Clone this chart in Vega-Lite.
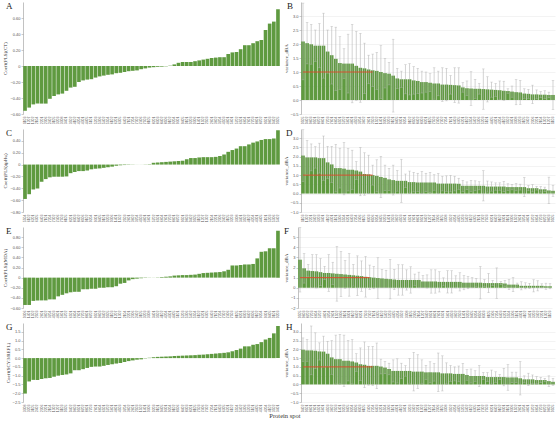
{
  "$schema": "https://vega.github.io/schema/vega-lite/v6.json",
  "padding": {"left": 2, "top": 2, "right": 2, "bottom": 0},
  "spacing": 5,
  "title": {"text": "Protein spot", "orient": "bottom", "anchor": "middle", "frame": "bounds", "fontSize": 6.5, "offset": 1, "dx": 6, "color": "#333"},
  "datasets": {
    "a": [
      {"s": "1103", "v": -0.56}, {"s": "1207", "v": -0.52}, {"s": "1302", "v": -0.48}, {"s": "2104", "v": -0.47},
      {"s": "2201", "v": -0.47}, {"s": "2306", "v": -0.47}, {"s": "2402", "v": -0.41}, {"s": "3105", "v": -0.375},
      {"s": "3203", "v": -0.355}, {"s": "3308", "v": -0.345}, {"s": "3401", "v": -0.31}, {"s": "3502", "v": -0.27},
      {"s": "4102", "v": -0.26}, {"s": "4204", "v": -0.2}, {"s": "4301", "v": -0.18}, {"s": "4405", "v": -0.17},
      {"s": "5101", "v": -0.165}, {"s": "5203", "v": -0.145}, {"s": "5306", "v": -0.13}, {"s": "5402", "v": -0.12},
      {"s": "5504", "v": -0.11}, {"s": "6102", "v": -0.105}, {"s": "6201", "v": -0.09}, {"s": "6305", "v": -0.085},
      {"s": "6403", "v": -0.075}, {"s": "7101", "v": -0.065}, {"s": "7204", "v": -0.06}, {"s": "7302", "v": -0.055},
      {"s": "7406", "v": -0.04}, {"s": "7503", "v": -0.03}, {"s": "8105", "v": -0.02}, {"s": "8201", "v": -0.015},
      {"s": "8303", "v": -0.01}, {"s": "8402", "v": -0.008}, {"s": "8506", "v": -0.004}, {"s": "9102", "v": 0.004},
      {"s": "9204", "v": 0.02}, {"s": "9301", "v": 0.04}, {"s": "9405", "v": 0.05}, {"s": "0101", "v": 0.05},
      {"s": "0203", "v": 0.05}, {"s": "0306", "v": 0.06}, {"s": "1401", "v": 0.07}, {"s": "1502", "v": 0.08},
      {"s": "2503", "v": 0.09}, {"s": "2601", "v": 0.1}, {"s": "3602", "v": 0.105}, {"s": "3704", "v": 0.11},
      {"s": "4503", "v": 0.11}, {"s": "4601", "v": 0.15}, {"s": "5601", "v": 0.17}, {"s": "5702", "v": 0.175},
      {"s": "6501", "v": 0.21}, {"s": "6604", "v": 0.26}, {"s": "7601", "v": 0.26}, {"s": "7703", "v": 0.285},
      {"s": "8601", "v": 0.31}, {"s": "8702", "v": 0.325}, {"s": "9501", "v": 0.45}, {"s": "9603", "v": 0.53},
      {"s": "0402", "v": 0.555}, {"s": "0505", "v": 0.71}
    ],
    "b": [
      {"s": "0505", "v": 2.09, "e": 1.37}, {"s": "0402", "v": 2.03, "e": 0.74}, {"s": "9603", "v": 1.99, "e": 0.71},
      {"s": "9501", "v": 1.94, "e": 0.56}, {"s": "8702", "v": 1.94, "e": 0.79}, {"s": "8601", "v": 1.94, "e": 1.16},
      {"s": "7703", "v": 1.73, "e": 0.77}, {"s": "7601", "v": 1.6, "e": 1.03}, {"s": "6604", "v": 1.47, "e": 1.13},
      {"s": "6501", "v": 1.32, "e": 0.94}, {"s": "5702", "v": 1.3, "e": 0.53}, {"s": "5601", "v": 1.3, "e": 1.05},
      {"s": "4601", "v": 1.3, "e": 1.4}, {"s": "4503", "v": 1.22, "e": 1.23}, {"s": "3704", "v": 1.15, "e": 1.23},
      {"s": "3602", "v": 1.13, "e": 0.9}, {"s": "2601", "v": 1.09, "e": 0.51}, {"s": "2503", "v": 1.06, "e": 0.58},
      {"s": "1502", "v": 1.04, "e": 0.66}, {"s": "1401", "v": 1.0, "e": 0.94}, {"s": "0306", "v": 0.96, "e": 0.53},
      {"s": "0203", "v": 0.94, "e": 0.4}, {"s": "0101", "v": 0.87, "e": 1.3}, {"s": "9405", "v": 0.77, "e": 0.36},
      {"s": "9301", "v": 0.74, "e": 0.29}, {"s": "9204", "v": 0.74, "e": 0.52}, {"s": "9102", "v": 0.74, "e": 0.56},
      {"s": "8506", "v": 0.7, "e": 0.49}, {"s": "8402", "v": 0.68, "e": 0.45}, {"s": "8303", "v": 0.64, "e": 0.39},
      {"s": "8201", "v": 0.64, "e": 0.36}, {"s": "8105", "v": 0.62, "e": 0.32}, {"s": "7503", "v": 0.59, "e": 0.56},
      {"s": "7406", "v": 0.59, "e": 0.44}, {"s": "7302", "v": 0.55, "e": 0.6}, {"s": "7204", "v": 0.55, "e": 0.58},
      {"s": "7101", "v": 0.54, "e": 0.33}, {"s": "6403", "v": 0.53, "e": 0.62}, {"s": "6305", "v": 0.52, "e": 0.63},
      {"s": "6201", "v": 0.45, "e": 0.17}, {"s": "6102", "v": 0.42, "e": 0.26}, {"s": "5504", "v": 0.41, "e": 0.6},
      {"s": "5402", "v": 0.4, "e": 0.34}, {"s": "5306", "v": 0.4, "e": 0.19}, {"s": "5203", "v": 0.39, "e": 0.72},
      {"s": "5101", "v": 0.38, "e": 0.45}, {"s": "4405", "v": 0.37, "e": 0.27}, {"s": "4301", "v": 0.36, "e": 0.23},
      {"s": "4204", "v": 0.35, "e": 0.33}, {"s": "4102", "v": 0.33, "e": 0.34}, {"s": "3502", "v": 0.32, "e": 0.08},
      {"s": "3401", "v": 0.3, "e": 0.2}, {"s": "3308", "v": 0.28, "e": 0.45}, {"s": "3203", "v": 0.27, "e": 0.43},
      {"s": "3105", "v": 0.23, "e": 0.17}, {"s": "2402", "v": 0.22, "e": 0.16}, {"s": "2306", "v": 0.2, "e": 0.33},
      {"s": "2201", "v": 0.2, "e": 0.16}, {"s": "2104", "v": 0.19, "e": 0.11}, {"s": "1302", "v": 0.19, "e": 0.14},
      {"s": "1207", "v": 0.18, "e": 0.1}, {"s": "1103", "v": 0.18, "e": 0.52}
    ],
    "c": [
      {"s": "5504", "v": -0.58}, {"s": "6102", "v": -0.5}, {"s": "6201", "v": -0.42}, {"s": "6305", "v": -0.405},
      {"s": "6403", "v": -0.29}, {"s": "7101", "v": -0.245}, {"s": "7204", "v": -0.215}, {"s": "7302", "v": -0.205},
      {"s": "7406", "v": -0.205}, {"s": "7503", "v": -0.205}, {"s": "8105", "v": -0.2}, {"s": "8201", "v": -0.145},
      {"s": "8303", "v": -0.125}, {"s": "8402", "v": -0.11}, {"s": "8506", "v": -0.11}, {"s": "9102", "v": -0.1},
      {"s": "9204", "v": -0.08}, {"s": "9301", "v": -0.07}, {"s": "9405", "v": -0.065}, {"s": "0101", "v": -0.055},
      {"s": "0203", "v": -0.045}, {"s": "0306", "v": -0.035}, {"s": "1401", "v": -0.02}, {"s": "1502", "v": -0.012},
      {"s": "2503", "v": -0.008}, {"s": "2601", "v": -0.005}, {"s": "3602", "v": -0.003}, {"s": "3704", "v": -0.001},
      {"s": "4503", "v": 0.001}, {"s": "4601", "v": 0.003}, {"s": "5601", "v": 0.006}, {"s": "5702", "v": 0.03},
      {"s": "6501", "v": 0.035}, {"s": "6604", "v": 0.04}, {"s": "7601", "v": 0.045}, {"s": "7703", "v": 0.05},
      {"s": "8601", "v": 0.055}, {"s": "8702", "v": 0.06}, {"s": "9501", "v": 0.065}, {"s": "9603", "v": 0.09},
      {"s": "0402", "v": 0.11}, {"s": "0505", "v": 0.11}, {"s": "1103", "v": 0.12}, {"s": "1207", "v": 0.125},
      {"s": "1302", "v": 0.125}, {"s": "2104", "v": 0.125}, {"s": "2201", "v": 0.13}, {"s": "2306", "v": 0.145},
      {"s": "2402", "v": 0.17}, {"s": "3105", "v": 0.215}, {"s": "3203", "v": 0.245}, {"s": "3308", "v": 0.27},
      {"s": "3401", "v": 0.31}, {"s": "3502", "v": 0.31}, {"s": "4102", "v": 0.34}, {"s": "4204", "v": 0.37},
      {"s": "4301", "v": 0.39}, {"s": "4405", "v": 0.415}, {"s": "5101", "v": 0.43}, {"s": "5203", "v": 0.43},
      {"s": "5306", "v": 0.44}, {"s": "5402", "v": 0.58}
    ],
    "d": [
      {"s": "1103", "v": 2.06, "e": 1.4}, {"s": "1302", "v": 1.96, "e": 0.92}, {"s": "2201", "v": 1.96, "e": 0.73},
      {"s": "2402", "v": 1.96, "e": 0.58}, {"s": "3203", "v": 1.92, "e": 0.81}, {"s": "3401", "v": 1.92, "e": 1.2},
      {"s": "4102", "v": 1.69, "e": 0.87}, {"s": "4301", "v": 1.58, "e": 0.98}, {"s": "5101", "v": 1.38, "e": 1.29},
      {"s": "5306", "v": 1.38, "e": 1.08}, {"s": "5504", "v": 1.35, "e": 1.42}, {"s": "6201", "v": 1.29, "e": 1.15},
      {"s": "6403", "v": 1.29, "e": 1.06}, {"s": "7204", "v": 1.25, "e": 0.48}, {"s": "7406", "v": 1.19, "e": 1.31},
      {"s": "8105", "v": 1.06, "e": 1.15}, {"s": "8303", "v": 1.04, "e": 1.04}, {"s": "8506", "v": 1.0, "e": 0.54},
      {"s": "9204", "v": 0.96, "e": 0.87}, {"s": "9405", "v": 0.9, "e": 1.12}, {"s": "0203", "v": 0.85, "e": 0.69},
      {"s": "1401", "v": 0.77, "e": 0.6}, {"s": "2503", "v": 0.73, "e": 0.81}, {"s": "3602", "v": 0.69, "e": 0.56},
      {"s": "4503", "v": 0.69, "e": 1.17}, {"s": "5601", "v": 0.69, "e": 0.37}, {"s": "6501", "v": 0.62, "e": 0.6},
      {"s": "7601", "v": 0.62, "e": 0.53}, {"s": "8601", "v": 0.6, "e": 0.5}, {"s": "9501", "v": 0.6, "e": 0.6},
      {"s": "0402", "v": 0.6, "e": 0.5}, {"s": "1207", "v": 0.6, "e": 0.55}, {"s": "2104", "v": 0.6, "e": 0.42},
      {"s": "2306", "v": 0.54, "e": 0.55}, {"s": "3105", "v": 0.54, "e": 0.4}, {"s": "3308", "v": 0.54, "e": 0.42},
      {"s": "3502", "v": 0.54, "e": 0.45}, {"s": "4204", "v": 0.54, "e": 0.4}, {"s": "4405", "v": 0.53, "e": 0.3},
      {"s": "5203", "v": 0.42, "e": 0.3}, {"s": "5402", "v": 0.42, "e": 0.21}, {"s": "6102", "v": 0.42, "e": 0.3},
      {"s": "6305", "v": 0.42, "e": 0.27}, {"s": "7101", "v": 0.42, "e": 0.22}, {"s": "7302", "v": 0.42, "e": 0.82},
      {"s": "7503", "v": 0.38, "e": 0.3}, {"s": "8201", "v": 0.38, "e": 0.25}, {"s": "8402", "v": 0.38, "e": 0.2},
      {"s": "9102", "v": 0.38, "e": 0.2}, {"s": "9301", "v": 0.38, "e": 0.28}, {"s": "0101", "v": 0.35, "e": 0.18},
      {"s": "0306", "v": 0.35, "e": 0.15}, {"s": "1502", "v": 0.35, "e": 0.2}, {"s": "2601", "v": 0.35, "e": 0.16},
      {"s": "3704", "v": 0.35, "e": 0.52}, {"s": "4601", "v": 0.29, "e": 0.14}, {"s": "5702", "v": 0.29, "e": 0.2},
      {"s": "6604", "v": 0.29, "e": 0.1}, {"s": "7703", "v": 0.23, "e": 0.15}, {"s": "8702", "v": 0.23, "e": 0.12},
      {"s": "9603", "v": 0.17, "e": 0.72}, {"s": "0505", "v": 0.15, "e": 0.3}
    ],
    "e": [
      {"s": "0306", "v": -0.54}, {"s": "1401", "v": -0.54}, {"s": "1502", "v": -0.46}, {"s": "2503", "v": -0.45},
      {"s": "2601", "v": -0.45}, {"s": "3602", "v": -0.45}, {"s": "3704", "v": -0.43}, {"s": "4503", "v": -0.43},
      {"s": "4601", "v": -0.37}, {"s": "5601", "v": -0.34}, {"s": "5702", "v": -0.31}, {"s": "6501", "v": -0.29},
      {"s": "6604", "v": -0.28}, {"s": "7601", "v": -0.28}, {"s": "7703", "v": -0.23}, {"s": "8601", "v": -0.23},
      {"s": "8702", "v": -0.22}, {"s": "9501", "v": -0.22}, {"s": "9603", "v": -0.2}, {"s": "0402", "v": -0.2},
      {"s": "0505", "v": -0.19}, {"s": "1103", "v": -0.19}, {"s": "1207", "v": -0.17}, {"s": "1302", "v": -0.12},
      {"s": "2104", "v": -0.105}, {"s": "2201", "v": -0.055}, {"s": "2306", "v": -0.03}, {"s": "2402", "v": -0.02},
      {"s": "3105", "v": -0.012}, {"s": "3203", "v": -0.006}, {"s": "3308", "v": -0.003}, {"s": "3401", "v": 0.002},
      {"s": "3502", "v": 0.005}, {"s": "4102", "v": 0.012}, {"s": "4204", "v": 0.018}, {"s": "4301", "v": 0.025},
      {"s": "4405", "v": 0.04}, {"s": "5101", "v": 0.045}, {"s": "5203", "v": 0.05}, {"s": "5306", "v": 0.05},
      {"s": "5402", "v": 0.055}, {"s": "5504", "v": 0.06}, {"s": "6102", "v": 0.075}, {"s": "6201", "v": 0.09},
      {"s": "6305", "v": 0.095}, {"s": "6403", "v": 0.1}, {"s": "7101", "v": 0.105}, {"s": "7204", "v": 0.11},
      {"s": "7302", "v": 0.125}, {"s": "7406", "v": 0.155}, {"s": "7503", "v": 0.24}, {"s": "8105", "v": 0.24},
      {"s": "8201", "v": 0.25}, {"s": "8303", "v": 0.26}, {"s": "8402", "v": 0.26}, {"s": "8506", "v": 0.27},
      {"s": "9102", "v": 0.38}, {"s": "9204", "v": 0.51}, {"s": "9301", "v": 0.52}, {"s": "9405", "v": 0.58},
      {"s": "0101", "v": 0.58}, {"s": "0203", "v": 0.925}
    ],
    "f": [
      {"s": "0505", "v": 2.77, "e": 3.19}, {"s": "9603", "v": 1.92, "e": 1.46}, {"s": "8702", "v": 1.69, "e": 0.61},
      {"s": "7703", "v": 1.65, "e": 1.62}, {"s": "6604", "v": 1.62, "e": 1.65}, {"s": "5702", "v": 1.54, "e": 1.34},
      {"s": "4601", "v": 1.46, "e": 0.66}, {"s": "3704", "v": 1.46, "e": 1.81}, {"s": "2601", "v": 1.42, "e": 1.1},
      {"s": "1502", "v": 1.38, "e": 2.7}, {"s": "0306", "v": 1.35, "e": 2.23}, {"s": "0101", "v": 1.31, "e": 1.38},
      {"s": "9301", "v": 1.27, "e": 2.1}, {"s": "9102", "v": 1.23, "e": 1.07}, {"s": "8402", "v": 1.19, "e": 1.96},
      {"s": "8201", "v": 1.15, "e": 1.5}, {"s": "7503", "v": 1.08, "e": 2.0}, {"s": "7302", "v": 1.04, "e": 1.2},
      {"s": "7101", "v": 1.0, "e": 1.1}, {"s": "6305", "v": 0.96, "e": 2.0}, {"s": "6102", "v": 0.92, "e": 0.88},
      {"s": "5402", "v": 0.88, "e": 0.85}, {"s": "5203", "v": 0.85, "e": 1.95}, {"s": "4405", "v": 0.81, "e": 1.0},
      {"s": "4204", "v": 0.77, "e": 1.5}, {"s": "3502", "v": 0.77, "e": 1.5}, {"s": "3308", "v": 0.77, "e": 1.0},
      {"s": "3105", "v": 0.77, "e": 1.3}, {"s": "2306", "v": 0.77, "e": 0.58}, {"s": "2104", "v": 0.77, "e": 0.77},
      {"s": "1207", "v": 0.62, "e": 0.58}, {"s": "0402", "v": 0.62, "e": 0.65}, {"s": "9501", "v": 0.62, "e": 1.15},
      {"s": "8601", "v": 0.62, "e": 1.15}, {"s": "7601", "v": 0.58, "e": 1.0}, {"s": "6501", "v": 0.58, "e": 0.4},
      {"s": "5601", "v": 0.58, "e": 1.1}, {"s": "4503", "v": 0.58, "e": 1.1}, {"s": "3602", "v": 0.58, "e": 0.6},
      {"s": "2503", "v": 0.58, "e": 0.9}, {"s": "1401", "v": 0.5, "e": 0.7}, {"s": "0203", "v": 0.5, "e": 0.6},
      {"s": "9405", "v": 0.5, "e": 0.5}, {"s": "9204", "v": 0.5, "e": 0.42}, {"s": "8506", "v": 0.5, "e": 1.6},
      {"s": "8303", "v": 0.46, "e": 0.35}, {"s": "8105", "v": 0.46, "e": 0.95}, {"s": "7406", "v": 0.46, "e": 0.25},
      {"s": "7204", "v": 0.46, "e": 1.5}, {"s": "6403", "v": 0.46, "e": 0.15}, {"s": "6201", "v": 0.42, "e": 0.3},
      {"s": "5504", "v": 0.31, "e": 0.5}, {"s": "5306", "v": 0.31, "e": 0.7}, {"s": "5101", "v": 0.31, "e": 0.15},
      {"s": "4301", "v": 0.19, "e": 0.4}, {"s": "4102", "v": 0.19, "e": 0.3}, {"s": "3401", "v": 0.19, "e": 0.25},
      {"s": "3203", "v": 0.19, "e": 0.6}, {"s": "2402", "v": 0.19, "e": 0.5}, {"s": "2201", "v": 0.19, "e": 0.2},
      {"s": "1302", "v": 0.15, "e": 0.3}, {"s": "1103", "v": 0.15, "e": 0.25}
    ],
    "g": [
      {"s": "3308", "v": -2.02}, {"s": "3203", "v": -1.33}, {"s": "3105", "v": -1.24}, {"s": "2402", "v": -1.24},
      {"s": "2306", "v": -1.19}, {"s": "2201", "v": -1.15}, {"s": "2104", "v": -1.13}, {"s": "1302", "v": -1.06},
      {"s": "1207", "v": -1.0}, {"s": "1103", "v": -0.96}, {"s": "0505", "v": -0.93}, {"s": "0402", "v": -0.87},
      {"s": "9603", "v": -0.69}, {"s": "9501", "v": -0.69}, {"s": "8702", "v": -0.63}, {"s": "8601", "v": -0.56},
      {"s": "7703", "v": -0.5}, {"s": "7601", "v": -0.48}, {"s": "6604", "v": -0.48}, {"s": "6501", "v": -0.44},
      {"s": "5702", "v": -0.39}, {"s": "5601", "v": -0.35}, {"s": "4601", "v": -0.31}, {"s": "4503", "v": -0.28},
      {"s": "3704", "v": -0.22}, {"s": "3602", "v": -0.17}, {"s": "2601", "v": -0.13}, {"s": "2503", "v": -0.09},
      {"s": "1502", "v": -0.07}, {"s": "1401", "v": -0.02}, {"s": "0306", "v": 0.02}, {"s": "0203", "v": 0.05},
      {"s": "0101", "v": 0.07}, {"s": "9405", "v": 0.08}, {"s": "9301", "v": 0.09}, {"s": "9204", "v": 0.1},
      {"s": "9102", "v": 0.12}, {"s": "8506", "v": 0.13}, {"s": "8402", "v": 0.14}, {"s": "8303", "v": 0.15},
      {"s": "8201", "v": 0.16}, {"s": "8105", "v": 0.17}, {"s": "7503", "v": 0.19}, {"s": "7406", "v": 0.2},
      {"s": "7302", "v": 0.22}, {"s": "7204", "v": 0.24}, {"s": "7101", "v": 0.26}, {"s": "6403", "v": 0.28},
      {"s": "6305", "v": 0.3}, {"s": "6201", "v": 0.33}, {"s": "6102", "v": 0.39}, {"s": "5504", "v": 0.46},
      {"s": "5402", "v": 0.54}, {"s": "5306", "v": 0.67}, {"s": "5203", "v": 0.67}, {"s": "5101", "v": 0.76},
      {"s": "4405", "v": 0.8}, {"s": "4301", "v": 0.91}, {"s": "4204", "v": 1.06}, {"s": "4102", "v": 1.15},
      {"s": "3502", "v": 1.41}, {"s": "3401", "v": 1.83}
    ],
    "h": [
      {"s": "0402", "v": 1.98, "e": 0.67}, {"s": "9501", "v": 1.94, "e": 0.62}, {"s": "8601", "v": 1.94, "e": 1.39},
      {"s": "7601", "v": 1.92, "e": 1.02}, {"s": "6501", "v": 1.88, "e": 0.49}, {"s": "5601", "v": 1.87, "e": 0.88},
      {"s": "4503", "v": 1.75, "e": 0.71}, {"s": "3602", "v": 1.54, "e": 0.96}, {"s": "2503", "v": 1.44, "e": 1.37},
      {"s": "1401", "v": 1.44, "e": 1.41}, {"s": "0203", "v": 1.35, "e": 1.46}, {"s": "9405", "v": 1.35, "e": 1.15},
      {"s": "9204", "v": 1.31, "e": 1.25}, {"s": "8506", "v": 1.25, "e": 0.5}, {"s": "8303", "v": 1.15, "e": 0.93},
      {"s": "8105", "v": 1.12, "e": 1.3}, {"s": "7406", "v": 1.06, "e": 1.1}, {"s": "7204", "v": 1.06, "e": 1.11},
      {"s": "6403", "v": 1.06, "e": 1.3}, {"s": "6201", "v": 1.02, "e": 0.42}, {"s": "5504", "v": 0.96, "e": 0.35},
      {"s": "5306", "v": 0.88, "e": 0.33}, {"s": "5101", "v": 0.77, "e": 0.63}, {"s": "4301", "v": 0.77, "e": 0.69},
      {"s": "4102", "v": 0.77, "e": 0.44}, {"s": "3401", "v": 0.77, "e": 0.3}, {"s": "3203", "v": 0.77, "e": 0.7},
      {"s": "2402", "v": 0.73, "e": 1.1}, {"s": "2201", "v": 0.73, "e": 0.96}, {"s": "1302", "v": 0.73, "e": 0.67},
      {"s": "1103", "v": 0.69, "e": 0.4}, {"s": "1207", "v": 0.69, "e": 0.6}, {"s": "2104", "v": 0.69, "e": 0.5},
      {"s": "2306", "v": 0.69, "e": 1.1}, {"s": "3105", "v": 0.63, "e": 1.0}, {"s": "3308", "v": 0.63, "e": 0.6},
      {"s": "3502", "v": 0.63, "e": 0.45}, {"s": "4204", "v": 0.6, "e": 0.4}, {"s": "4405", "v": 0.6, "e": 0.45},
      {"s": "5203", "v": 0.6, "e": 0.6}, {"s": "5402", "v": 0.54, "e": 0.3}, {"s": "6102", "v": 0.48, "e": 0.4},
      {"s": "6305", "v": 0.48, "e": 0.3}, {"s": "7101", "v": 0.48, "e": 0.6}, {"s": "7302", "v": 0.48, "e": 0.2},
      {"s": "7503", "v": 0.42, "e": 0.25}, {"s": "8201", "v": 0.42, "e": 0.4}, {"s": "8402", "v": 0.42, "e": 0.3},
      {"s": "9102", "v": 0.42, "e": 0.15}, {"s": "9301", "v": 0.42, "e": 0.5}, {"s": "0101", "v": 0.4, "e": 0.73},
      {"s": "0306", "v": 0.4, "e": 0.3}, {"s": "1502", "v": 0.4, "e": 0.3}, {"s": "2601", "v": 0.35, "e": 0.95},
      {"s": "3704", "v": 0.29, "e": 0.2}, {"s": "4601", "v": 0.29, "e": 0.35}, {"s": "5702", "v": 0.29, "e": 0.25},
      {"s": "6604", "v": 0.25, "e": 0.2}, {"s": "7703", "v": 0.25, "e": 0.15}, {"s": "8702", "v": 0.25, "e": 0.1},
      {"s": "9603", "v": 0.19, "e": 0.3}, {"s": "0505", "v": 0.15, "e": 0.2}
    ]
  },
  "vconcat": [
    {
      "spacing": 3,
      "hconcat": [
        {
          "width": 257, "height": 112,
          "title": {"text": "A", "dx": -17},
          "data": {"name": "a"},
          "mark": {"type": "bar", "color": "#5f9a40"},
          "encoding": {
            "x": {"field": "s", "type": "nominal", "sort": null, "scale": {"paddingInner": 0.12, "paddingOuter": 0.05}, "axis": {"title": null, "labelAngle": -90, "labelFontSize": 3.5, "ticks": false, "domain": false, "labelPadding": 2}},
            "y": {"field": "v", "type": "quantitative", "scale": {"domain": [-0.6, 0.8], "nice": false}, "axis": {"title": "Coeff(PLS)(CT)", "values": [-0.6, -0.4, -0.2, 0, 0.2, 0.4, 0.6], "format": ".2f", "labelExpr": "datum.value == 0 ? '0' : datum.label"}}
          }
        },
        {
          "width": 254, "height": 112,
          "title": {"text": "B", "dx": -14},
          "data": {"name": "b"},
          "encoding": {
            "x": {"field": "s", "type": "nominal", "sort": null, "scale": {"paddingInner": 0.12, "paddingOuter": 0.05}, "axis": {"title": null, "labelAngle": -90, "labelFontSize": 3.5, "ticks": false, "domain": false, "labelPadding": 2}},
            "y": {"field": "v", "type": "quantitative", "title": "variance_dBA", "scale": {"domain": [-0.5, 3.5], "nice": false}, "axis": {"grid": true, "values": [-0.5, 0, 0.5, 1, 1.5, 2, 2.5, 3]}}
          },
          "layer": [
            {"mark": {"type": "bar", "color": "#5f9a40"}},
            {"mark": {"type": "errorbar", "color": "#b5b5b5", "thickness": 0.6, "ticks": {"size": 2.5}}, "encoding": {"yError": {"field": "e"}}},
            {
              "data": {"values": [{"from": "0505", "to": "2503", "y": 1}]},
              "mark": {"type": "rule", "color": "#e0482a", "strokeWidth": 0.9},
              "encoding": {"x": {"field": "from", "type": "nominal", "sort": null}, "x2": {"field": "to"}, "y": {"field": "y", "type": "quantitative", "title": "variance_dBA", "scale": {"domain": [-0.5, 3.5], "nice": false}, "axis": {"grid": true, "values": [-0.5, 0, 0.5, 1, 1.5, 2, 2.5, 3]}}}
            }
          ]
        }
      ]
    },
    {
      "spacing": 3,
      "hconcat": [
        {
          "width": 257, "height": 83,
          "title": {"text": "C", "dx": -17},
          "data": {"name": "c"},
          "mark": {"type": "bar", "color": "#5f9a40"},
          "encoding": {
            "x": {"field": "s", "type": "nominal", "sort": null, "scale": {"paddingInner": 0.12, "paddingOuter": 0.05}, "axis": {"title": null, "labelAngle": -90, "labelFontSize": 3.5, "ticks": false, "domain": false, "labelPadding": 2}},
            "y": {"field": "v", "type": "quantitative", "scale": {"domain": [-0.8, 0.6], "nice": false}, "axis": {"title": "Coeff(PLS)(pHu)", "values": [-0.8, -0.6, -0.4, -0.2, 0, 0.2, 0.4], "format": ".2f", "labelExpr": "datum.value == 0 ? '0' : datum.label"}}
          }
        },
        {
          "width": 254, "height": 83,
          "title": {"text": "D", "dx": -15},
          "data": {"name": "d"},
          "encoding": {
            "x": {"field": "s", "type": "nominal", "sort": null, "scale": {"paddingInner": 0.12, "paddingOuter": 0.05}, "axis": {"title": null, "labelAngle": -90, "labelFontSize": 3.5, "ticks": false, "domain": false, "labelPadding": 2}},
            "y": {"field": "v", "type": "quantitative", "title": "variance_dBA", "scale": {"domain": [-1, 3.5], "nice": false}, "axis": {"grid": true, "values": [-1, -0.5, 0, 0.5, 1, 1.5, 2, 2.5, 3]}}
          },
          "layer": [
            {"mark": {"type": "bar", "color": "#5f9a40"}},
            {"mark": {"type": "errorbar", "color": "#b5b5b5", "thickness": 0.6, "ticks": {"size": 2.5}}, "encoding": {"yError": {"field": "e"}}},
            {
              "data": {"values": [{"from": "1103", "to": "8506", "y": 1}]},
              "mark": {"type": "rule", "color": "#e0482a", "strokeWidth": 0.9},
              "encoding": {"x": {"field": "from", "type": "nominal", "sort": null}, "x2": {"field": "to"}, "y": {"field": "y", "type": "quantitative", "title": "variance_dBA", "scale": {"domain": [-1, 3.5], "nice": false}, "axis": {"grid": true, "values": [-1, -0.5, 0, 0.5, 1, 1.5, 2, 2.5, 3]}}}
            }
          ]
        }
      ]
    },
    {
      "spacing": 3,
      "hconcat": [
        {
          "width": 257, "height": 81,
          "title": {"text": "E", "dx": -17},
          "data": {"name": "e"},
          "mark": {"type": "bar", "color": "#5f9a40"},
          "encoding": {
            "x": {"field": "s", "type": "nominal", "sort": null, "scale": {"paddingInner": 0.12, "paddingOuter": 0.05}, "axis": {"title": null, "labelAngle": -90, "labelFontSize": 3.5, "ticks": false, "domain": false, "labelPadding": 2}},
            "y": {"field": "v", "type": "quantitative", "scale": {"domain": [-0.6, 1.0], "nice": false}, "axis": {"title": "Coeff(PLS)(MDA)", "values": [-0.6, -0.4, -0.2, 0, 0.2, 0.4, 0.6, 0.8], "format": ".2f", "labelExpr": "datum.value == 0 ? '0' : datum.label"}}
          }
        },
        {
          "width": 254, "height": 81,
          "title": {"text": "F", "dx": -14},
          "data": {"name": "f"},
          "encoding": {
            "x": {"field": "s", "type": "nominal", "sort": null, "scale": {"paddingInner": 0.12, "paddingOuter": 0.05}, "axis": {"title": null, "labelAngle": -90, "labelFontSize": 3.5, "ticks": false, "domain": false, "labelPadding": 2}},
            "y": {"field": "v", "type": "quantitative", "title": "variance_dBA", "scale": {"domain": [-2, 6], "nice": false}, "axis": {"grid": true, "values": [-2, -1, 0, 1, 2, 3, 4, 5]}}
          },
          "layer": [
            {"mark": {"type": "bar", "color": "#5f9a40"}},
            {"mark": {"type": "errorbar", "color": "#b5b5b5", "thickness": 0.6, "ticks": {"size": 2.5}}, "encoding": {"yError": {"field": "e"}}},
            {
              "data": {"values": [{"from": "0505", "to": "7302", "y": 1}]},
              "mark": {"type": "rule", "color": "#e0482a", "strokeWidth": 0.9},
              "encoding": {"x": {"field": "from", "type": "nominal", "sort": null}, "x2": {"field": "to"}, "y": {"field": "y", "type": "quantitative", "title": "variance_dBA", "scale": {"domain": [-2, 6], "nice": false}, "axis": {"grid": true, "values": [-2, -1, 0, 1, 2, 3, 4, 5]}}}
            }
          ]
        }
      ]
    },
    {
      "spacing": 3,
      "hconcat": [
        {
          "width": 257, "height": 79,
          "title": {"text": "G", "dx": -17},
          "data": {"name": "g"},
          "mark": {"type": "bar", "color": "#5f9a40"},
          "encoding": {
            "x": {"field": "s", "type": "nominal", "sort": null, "scale": {"paddingInner": 0.12, "paddingOuter": 0.05}, "axis": {"title": null, "labelAngle": -90, "labelFontSize": 3.5, "ticks": false, "domain": false, "labelPadding": 2}},
            "y": {"field": "v", "type": "quantitative", "scale": {"domain": [-2.5, 2], "nice": false}, "axis": {"title": "Coeff(SCY3/REFL)", "values": [-2.5, -2, -1.5, -1, -0.5, 0, 0.5, 1, 1.5]}}
          }
        },
        {
          "width": 254, "height": 79,
          "title": {"text": "H", "dx": -15},
          "data": {"name": "h"},
          "encoding": {
            "x": {"field": "s", "type": "nominal", "sort": null, "scale": {"paddingInner": 0.12, "paddingOuter": 0.05}, "axis": {"title": null, "labelAngle": -90, "labelFontSize": 3.5, "ticks": false, "domain": false, "labelPadding": 2}},
            "y": {"field": "v", "type": "quantitative", "title": "variance_dBA", "scale": {"domain": [-1, 3.5], "nice": false}, "axis": {"grid": true, "values": [-1, -0.5, 0, 0.5, 1, 1.5, 2, 2.5, 3]}}
          },
          "layer": [
            {"mark": {"type": "bar", "color": "#5f9a40"}},
            {"mark": {"type": "errorbar", "color": "#b5b5b5", "thickness": 0.6, "ticks": {"size": 2.5}}, "encoding": {"yError": {"field": "e"}}},
            {
              "data": {"values": [{"from": "0402", "to": "7204", "y": 1}]},
              "mark": {"type": "rule", "color": "#e0482a", "strokeWidth": 0.9},
              "encoding": {"x": {"field": "from", "type": "nominal", "sort": null}, "x2": {"field": "to"}, "y": {"field": "y", "type": "quantitative", "title": "variance_dBA", "scale": {"domain": [-1, 3.5], "nice": false}, "axis": {"grid": true, "values": [-1, -0.5, 0, 0.5, 1, 1.5, 2, 2.5, 3]}}}
            }
          ]
        }
      ]
    }
  ],
  "config": {
    "view": {"stroke": null},
    "font": "Liberation Serif",
    "axis": {
      "labelFont": "Liberation Sans", "labelFontSize": 4, "labelColor": "#555",
      "titleFont": "Liberation Serif", "titleFontSize": 5, "titleFontWeight": "normal", "titleColor": "#333",
      "domainColor": "#999", "domainWidth": 0.6, "tickColor": "#999", "tickSize": 2, "tickWidth": 0.5,
      "labelPadding": 1, "titlePadding": 2, "gridColor": "#e6e6e6", "gridWidth": 0.5
    },
    "axisY": {"grid": false},
    "title": {"font": "Liberation Serif", "fontSize": 9, "fontWeight": "normal", "anchor": "start", "frame": "group", "offset": -9, "color": "#222"}
  }
}
